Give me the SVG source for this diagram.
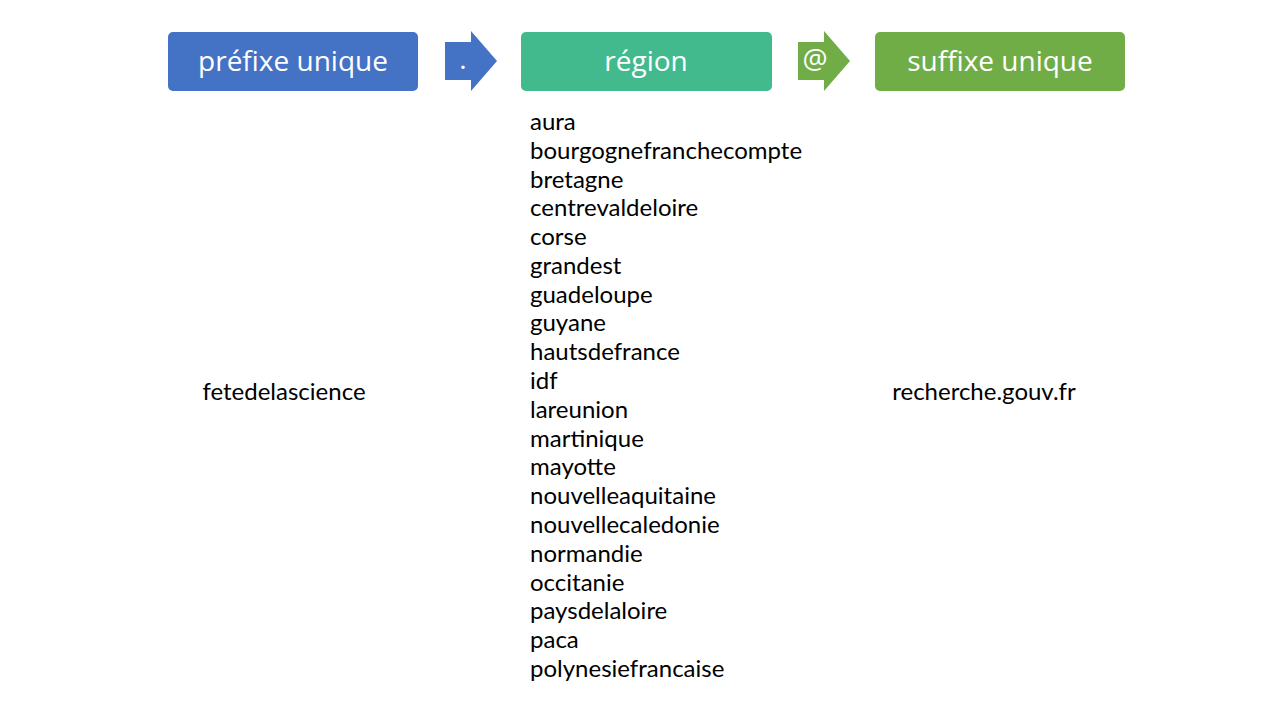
<svg xmlns="http://www.w3.org/2000/svg" width="1280" height="720" viewBox="0 0 1280 720">
<style>
.h{font-family:"Open Sans","Noto Sans",sans-serif;font-size:28px;fill:#fff;text-anchor:middle}
.t{font-family:"Lato","Liberation Sans",sans-serif;font-size:24px;fill:#000}
</style>
<rect width="1280" height="720" fill="#fff"/>
<g id="prefixe"><rect x="168" y="32" width="250" height="59" rx="5" fill="#4472C4"/><text class="h" x="293" y="71">préfixe unique</text></g>
<g id="region"><rect x="521" y="32" width="251" height="59" rx="5" fill="#43BA8D"/><text class="h" x="646" y="71">région</text></g>
<g id="suffixe"><rect x="875" y="32" width="250" height="59" rx="5" fill="#70AD47"/><text class="h" x="1000" y="71">suffixe unique</text></g>
<g id="connectors">
<path d="M445 42H471V31L497 61L471 91V80H445Z" fill="#4472C4"/>
<text class="h" x="463" y="69" font-size="20">.</text>
<path d="M798 42H824V31L850 61L824 91V80H798Z" fill="#70AD47"/>
<text class="h" x="815" y="69" font-size="20">@</text>
</g>
<text class="t" x="284" y="400" text-anchor="middle">fetedelascience</text>
<text class="t" x="984" y="400" text-anchor="middle">recherche.gouv.fr</text>
<g class="t">
<text x="530" y="130">aura</text>
<text x="530" y="159">bourgognefranchecompte</text>
<text x="530" y="188">bretagne</text>
<text x="530" y="216">centrevaldeloire</text>
<text x="530" y="245">corse</text>
<text x="530" y="274">grandest</text>
<text x="530" y="303">guadeloupe</text>
<text x="530" y="331">guyane</text>
<text x="530" y="360">hautsdefrance</text>
<text x="530" y="389">idf</text>
<text x="530" y="418">lareunion</text>
<text x="530" y="447">martinique</text>
<text x="530" y="475">mayotte</text>
<text x="530" y="504">nouvelleaquitaine</text>
<text x="530" y="533">nouvellecaledonie</text>
<text x="530" y="562">normandie</text>
<text x="530" y="591">occitanie</text>
<text x="530" y="619">paysdelaloire</text>
<text x="530" y="648">paca</text>
<text x="530" y="677">polynesiefrancaise</text>
</g>
</svg>
